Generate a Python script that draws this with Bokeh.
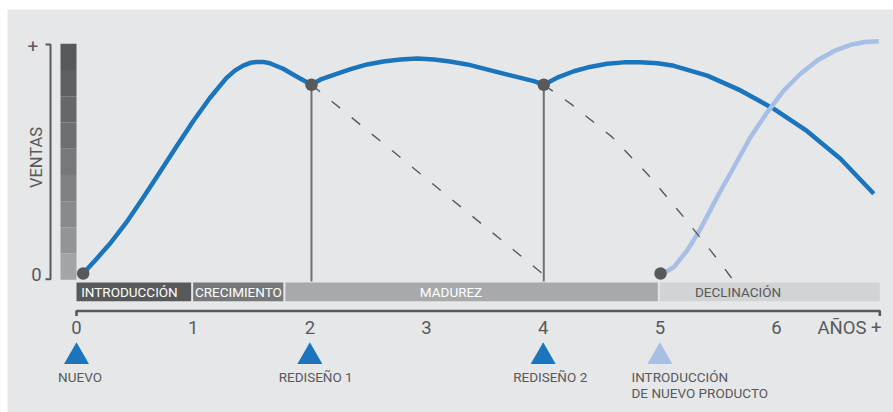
import math
from bokeh.plotting import figure
from bokeh.models import Range1d
from bokeh.core.properties import value
from bokeh.embed import file_html
from bokeh.resources import INLINE

# ---------------- data ----------------
# main product life cycle (years, sales index 0..100)
main_years = [0.057, 0.171, 0.286, 0.429, 0.571, 0.714, 0.857, 1.0, 1.143, 1.286,
              1.36, 1.429, 1.49, 1.543, 1.60, 1.657, 1.771, 1.886, 2.014, 2.10,
              2.205, 2.35, 2.491, 2.63, 2.777, 2.92, 3.063, 3.20, 3.349, 3.634,
              3.920, 4.005, 4.12, 4.263, 4.40, 4.549, 4.69, 4.834, 4.98, 5.120,
              5.406, 5.691, 5.977, 6.263, 6.548, 6.834]
main_sales = [0.0, 6.4, 13.0, 22.5, 33.2, 44.4, 55.7, 66.8, 77.0, 85.8,
              89.1, 91.2, 92.4, 92.8, 92.8, 92.2, 89.8, 86.4, 82.8, 85.3,
              87.1, 89.6, 91.7, 93.0, 93.9, 94.3, 93.9, 93.0, 91.7, 88.0,
              84.4, 82.8, 85.9, 88.7, 90.6, 92.0, 92.6, 92.7, 92.2, 91.1,
              86.8, 80.3, 72.2, 62.4, 50.3, 35.0]

# new product curve
new_years = [5.006, 5.060, 5.120, 5.234, 5.349, 5.491, 5.634, 5.777, 5.920, 6.063,
             6.206, 6.349, 6.491, 6.634, 6.760, 6.877]
new_sales = [0.0, 1.0, 2.8, 10.1, 19.6, 33.5, 46.6, 59.8, 70.7, 80.3,
             87.6, 93.4, 97.5, 100.3, 101.5, 101.9]

# projected decline without redesign (dashed)
proj1_years = [2.014, 4.076]
proj1_sales = [82.8, -3.5]
proj2_years = [4.005, 4.234, 4.592, 4.905, 5.205, 5.492, 5.631]
proj2_sales = [82.8, 74.5, 59.8, 43.0, 24.7, 6.4, -3.1]

# redesign points and launch points
redesign_years = [2.014, 4.005]
redesign_sales = [82.8, 82.8]
launch_years = [0.057, 5.006]
launch_sales = [0.0, 0.0]

# phases
phase_names = ["INTRODUCCIÓN", "CRECIMIENTO", "MADUREZ", "DECLINACIÓN"]
phase_start = [0.0, 1.0, 1.79, 5.0]
phase_end = [1.0, 1.79, 5.0, 6.885]

# x axis
tick_values = [0, 1, 2, 3, 4, 5, 6]
tick_labels = ["0", "1", "2", "3", "4", "5", "6"]
axis_title = "AÑOS +"

# milestones
milestone_years = [0, 2, 4, 5]
milestone_names = ["NUEVO", "REDISEÑO 1", "REDISEÑO 2", "INTRODUCCIÓN\nDE NUEVO PRODUCTO"]

# y axis
y_title = "VENTAS"
y_top_label = "+"
y_zero_label = "0"

# ---------------- styles / layout ----------------
FONT = "Roboto"
BG = "#e6e7e9"
DARK = "#58595b"
BLUE = "#1b75bc"
LIGHT = "#a7bee5"
phase_fill = ["#58595b", "#77787b", "#a7a9ac", "#d1d3d4"]
phase_text_color = ["white", "white", "white", "#58595b"]
phase_label_x = [0.04, 1.015, 3.21, 5.67]
phase_label_align = ["left", "left", "center", "center"]
milestone_color = [BLUE, BLUE, BLUE, LIGHT]
milestone_label_x = [0.03, 2.05, 4.06, 4.757]
milestone_label_align = ["center", "center", "center", "left"]
shade_colors = ["#58595b", "#5f6063", "#66676a", "#6e6f72", "#77787b",
                "#808184", "#898a8d", "#939497", "#a3a4a7"]

X0_PX, PX_PER_YEAR = 76.0, 116.67
Y0_PX, PX_PER_UNIT = 273.0, 2.28


def rx(px):
    return (px - X0_PX) / PX_PER_YEAR


def ry(py):
    return (Y0_PX - py) / PX_PER_UNIT


p = figure(width=893, height=412,
           x_range=Range1d(rx(7), rx(893)), y_range=Range1d(ry(412), ry(9)),
           output_backend="svg", toolbar_location=None,
           x_axis_type=None, y_axis_type=None,
           min_border_left=7, min_border_top=9, min_border_right=0, min_border_bottom=0)
p.outline_line_color = None
p.background_fill_color = BG
p.border_fill_color = "white"

# gradient sales bar
n = len(shade_colors)
bar_top, bar_bot = ry(43.3), ry(279.3)
seg = (bar_top - bar_bot) / n
p.quad(left=[rx(60)] * n, right=[0.0] * n,
       top=[bar_top - i * seg for i in range(n)],
       bottom=[bar_top - (i + 1) * seg for i in range(n)],
       fill_color=shade_colors, line_color=None)

# y bracket
p.line([rx(45), rx(50), rx(50), rx(45)], [ry(44), ry(44), ry(278.7), ry(278.7)],
       line_color=DARK, line_width=2)
p.text(x=[rx(32.5)], y=[ry(45.5)], text=[y_top_label], text_font=value(FONT),
       text_font_size="19px", text_color=DARK, text_align="center", text_baseline="middle")
p.text(x=[rx(36)], y=[ry(274)], text=[y_zero_label], text_font=value(FONT),
       text_font_size="18.5px", text_color=DARK, text_align="center", text_baseline="middle")
p.text(x=[rx(35.5)], y=[ry(157)], text=[y_title], angle=math.pi / 2, text_font=value(FONT),
       text_font_size="16.5px", text_color=DARK, text_align="center", text_baseline="middle")

# phase bar
gap = 2.0 / PX_PER_YEAR
p.quad(left=phase_start, right=[e - gap for e in phase_end[:-1]] + [phase_end[-1]],
       top=[ry(282)] * 4, bottom=[ry(300.7)] * 4, fill_color=phase_fill, line_color=None)
for name, lx, al, tc in zip(phase_names, phase_label_x, phase_label_align, phase_text_color):
    p.text(x=[lx], y=[ry(291.5)], text=[name], text_font=value(FONT), text_font_size="13.5px",
           text_color=tc, text_align=al, text_baseline="middle")

# curves
p.line(main_years, main_sales, line_color=BLUE, line_width=4.5, line_join="round")
p.line(new_years, new_sales, line_color=LIGHT, line_width=4.5, line_join="round")

# dashed projections and redesign verticals
p.line(proj1_years, proj1_sales, line_color=DARK, line_width=1.4, line_dash="11 15")
p.line(proj2_years, proj2_sales, line_color=DARK, line_width=1.4, line_dash="11 15")
p.segment(x0=redesign_years, y0=redesign_sales, x1=redesign_years, y1=[ry(281)] * 2,
          line_color="#707173", line_width=2)

# points
p.scatter(redesign_years + launch_years, redesign_sales + launch_sales, size=12.5,
          fill_color=DARK, line_color=None)

# x axis line
ax_y = ry(310.5)
p.line([0, 0, rx(879.3), rx(879.3)], [ry(315.5), ax_y, ax_y, ry(315.5)],
       line_color=DARK, line_width=2.6)
p.text(x=tick_values, y=[ry(327)] * len(tick_values), text=tick_labels, text_font=value(FONT),
       text_font_size="18.5px", text_color=DARK, text_align="center", text_baseline="middle")
p.text(x=[rx(881)], y=[ry(327)], text=[axis_title], text_font=value(FONT),
       text_font_size="18.5px", text_color=DARK, text_align="right", text_baseline="middle")

# milestones
p.scatter(milestone_years, [ry(356.3)] * 4, marker="triangle", size=25,
          fill_color=milestone_color, line_color=None)
for name, lx, al in zip(milestone_names, milestone_label_x, milestone_label_align):
    for k, line in enumerate(name.split("\n")):
        p.text(x=[lx], y=[ry(376.5 + 16 * k)], text=[line], text_font=value(FONT),
               text_font_size="13.5px", text_color=DARK, text_align=al,
               text_baseline="middle")

open("out.html", "w").write(file_html(p, INLINE))
